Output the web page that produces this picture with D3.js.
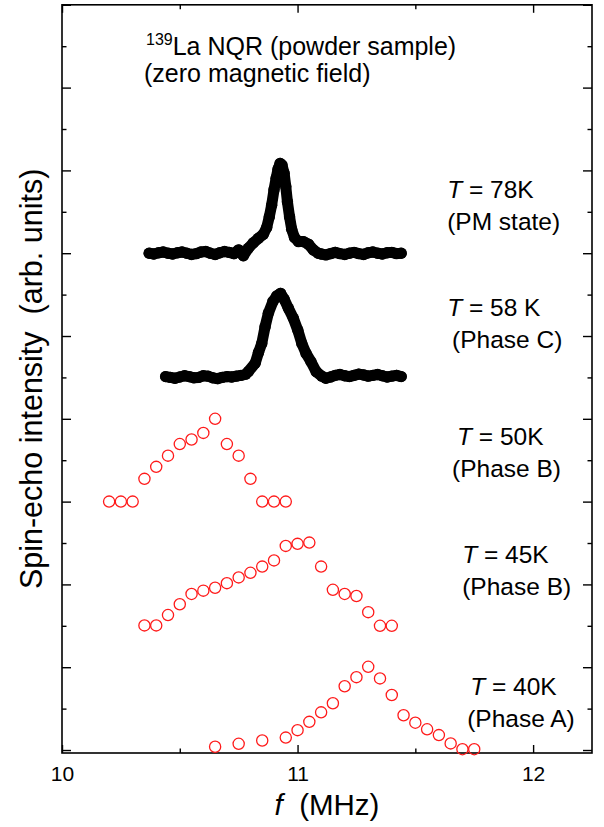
<!DOCTYPE html>
<html>
<head>
<meta charset="utf-8">
<script src="https://d3js.org/d3.v7.min.js"></script>
<style>
  body { margin: 0; background: #fff; }
  svg { font-family: "Liberation Sans", Arial, sans-serif; }
</style>
</head>
<body>
<svg id="chart" width="604" height="827"></svg>
<script>
// 139La NQR spectra (intensity in axis units, offsets included)
var freq78 = [10.37, 10.39, 10.41, 10.43, 10.45, 10.47, 10.49, 10.51, 10.53, 10.55,
  10.57, 10.59, 10.61, 10.63, 10.65, 10.67, 10.69, 10.71, 10.73, 10.75,
  10.770, 10.791, 10.812, 10.834, 10.855, 10.869, 10.880, 10.890, 10.900, 10.909,
  10.917, 10.926, 10.934, 10.943, 10.950, 10.957, 10.966, 10.975, 10.987, 11.004,
  11.025, 11.046, 11.067, 11.088, 11.10, 11.12, 11.14, 11.16, 11.18, 11.20,
  11.22, 11.24, 11.26, 11.28, 11.30, 11.32, 11.34, 11.36, 11.38, 11.40, 11.42, 11.44];
var int78 = [12.00, 11.98, 12.01, 12.03, 12.00, 11.98, 12.01, 12.03, 12.00, 11.97,
  11.99, 12.03, 12.04, 12.00, 11.97, 12.01, 12.04, 12.02, 11.99, 12.08,
  11.94, 12.12, 12.25, 12.36, 12.46, 12.62, 12.88, 13.16, 13.53, 13.81,
  14.03, 14.17, 14.13, 13.93, 13.61, 13.24, 12.88, 12.58, 12.38, 12.28,
  12.28, 12.22, 12.08, 12.00, 11.98, 11.96, 11.99, 12.02, 11.99, 11.97,
  12.00, 12.02, 11.99, 11.97, 12.01, 12.03, 12.00, 11.98, 12.01, 12.02, 11.99, 12.00];

var freq58 = [10.44, 10.46, 10.48, 10.50, 10.52, 10.54, 10.56, 10.58, 10.60, 10.62,
  10.64, 10.66, 10.68, 10.70, 10.72, 10.74, 10.76, 10.78,
  10.791, 10.820, 10.834, 10.848, 10.862, 10.876, 10.895, 10.912, 10.928, 10.943,
  10.961, 10.982, 11.001, 11.018, 11.036, 11.057, 11.079, 11.103,
  11.12, 11.14, 11.16, 11.18, 11.20, 11.22, 11.24, 11.26, 11.28, 11.30,
  11.32, 11.34, 11.36, 11.38, 11.40, 11.42, 11.44];
var int58 = [9.02, 9.00, 8.98, 9.01, 9.04, 9.02, 8.99, 9.00, 9.04, 9.03,
  8.99, 8.97, 9.00, 9.02, 9.01, 9.03, 9.05, 9.08,
  9.14, 9.34, 9.60, 9.82, 10.22, 10.55, 10.83, 10.97, 11.03, 10.89,
  10.67, 10.43, 10.14, 9.82, 9.58, 9.38, 9.14, 9.03,
  8.98, 9.01, 9.05, 9.07, 9.04, 9.02, 9.05, 9.08, 9.06, 9.03,
  9.05, 9.07, 9.04, 9.01, 9.03, 9.05, 9.02];

var freq50 = [10.20, 10.25, 10.30, 10.35, 10.40, 10.45, 10.50, 10.55,
  10.60, 10.65, 10.70, 10.75, 10.80, 10.85, 10.90, 10.95];
var int50 = [6.00, 6.00, 6.00, 6.55, 6.84, 7.11, 7.39, 7.50,
  7.66, 8.00, 7.39, 7.11, 6.55, 6.00, 6.00, 6.00];

var freq45 = [10.35, 10.40, 10.45, 10.50, 10.55, 10.60, 10.65, 10.70, 10.75, 10.80, 10.85,
  10.90, 10.95, 11.00, 11.05, 11.10, 11.15, 11.20, 11.25, 11.30, 11.35, 11.40];
var int45 = [3.01, 3.01, 3.26, 3.52, 3.77, 3.85, 3.92, 4.03, 4.17, 4.28, 4.43,
  4.58, 4.93, 4.98, 5.01, 4.43, 3.87, 3.77, 3.72, 3.33, 3.00, 3.00];

var freq40 = [10.65, 10.75, 10.85, 10.95, 11.00, 11.05, 11.10, 11.15, 11.20, 11.25,
  11.30, 11.35, 11.40, 11.45, 11.50, 11.55, 11.60, 11.65, 11.70, 11.75];
var int40 = [0.08, 0.15, 0.23, 0.30, 0.48, 0.68, 0.91, 1.13, 1.54, 1.76,
  2.01, 1.73, 1.33, 0.84, 0.66, 0.50, 0.36, 0.16, 0.02, 0.02];

// labels next to each spectrum
var tempLabels = ["78K", "58 K", "50K", "45K", "40K"];
var phaseLabels = ["(PM state)", "(Phase C)", "(Phase B)", "(Phase B)", "(Phase A)"];

var xTicks = [10, 11, 12];
var xMinor = [10.5, 11.5];
var yTicks = d3.range(0, 19, 2);
var yMinor = d3.range(1, 18, 2);

// The svg
var svg = d3.select("#chart");

var plotLeft = 62, plotRight = 592, plotTop = 4.8, plotBottom = 753;

var x = d3.scaleLinear().domain([10, 12.25]).range([plotLeft, plotRight]);
var y = d3.scaleLinear().domain([-0.072, 18]).range([plotBottom, plotTop]);

// frame
svg.append("rect")
  .attr("x", plotLeft).attr("y", plotTop)
  .attr("width", plotRight - plotLeft).attr("height", plotBottom - plotTop)
  .attr("fill", "none").attr("stroke", "#000").attr("stroke-width", 1.6);

function tickStyle(g) {
  g.select(".domain").remove();
  g.selectAll(".tick line").attr("stroke", "#000").attr("stroke-width", 1.4);
}

// x axes (ticks inward, top mirrored)
svg.append("g").attr("transform", "translate(0," + plotBottom + ")")
  .call(d3.axisBottom(x).tickValues(xTicks).tickSize(-8).tickPadding(13).tickFormat(d3.format("d")))
  .call(tickStyle)
  .call(function (g) {
    g.selectAll("text").attr("fill", "#000").style("font-size", "21px")
      .style("font-family", "Liberation Sans, Arial, sans-serif");
  });
svg.append("g").attr("transform", "translate(0," + plotBottom + ")")
  .call(d3.axisBottom(x).tickValues(xMinor).tickSize(-4.5).tickFormat(""))
  .call(tickStyle);
svg.append("g").attr("transform", "translate(0," + plotTop + ")")
  .call(d3.axisTop(x).tickValues(xTicks).tickSize(-8).tickFormat(""))
  .call(tickStyle);
svg.append("g").attr("transform", "translate(0," + plotTop + ")")
  .call(d3.axisTop(x).tickValues(xMinor).tickSize(-4.5).tickFormat(""))
  .call(tickStyle);

// y axes, no labels
svg.append("g").attr("transform", "translate(" + plotLeft + ",0)")
  .call(d3.axisLeft(y).tickValues(yTicks).tickSize(-9).tickFormat(""))
  .call(tickStyle);
svg.append("g").attr("transform", "translate(" + plotLeft + ",0)")
  .call(d3.axisLeft(y).tickValues(yMinor).tickSize(-4.5).tickFormat(""))
  .call(tickStyle);
svg.append("g").attr("transform", "translate(" + plotRight + ",0)")
  .call(d3.axisRight(y).tickValues(yTicks).tickSize(-9).tickFormat(""))
  .call(tickStyle);
svg.append("g").attr("transform", "translate(" + plotRight + ",0)")
  .call(d3.axisRight(y).tickValues(yMinor).tickSize(-4.5).tickFormat(""))
  .call(tickStyle);

// black dense spectra (78K, 58K)
function pts(fs, is) {
  return fs.map(function (f, i) { return [f, is[i]]; });
}
var line = d3.line().x(function (d) { return x(d[0]); }).y(function (d) { return y(d[1]); });

[pts(freq78, int78), pts(freq58, int58)].forEach(function (data) {
  svg.append("path")
    .datum(data)
    .attr("d", line)
    .attr("fill", "none")
    .attr("stroke", "#000")
    .attr("stroke-width", 11)
    .attr("stroke-linejoin", "round")
    .attr("stroke-linecap", "round");
  svg.append("g")
    .selectAll("circle")
    .data(data)
    .enter()
    .append("circle")
    .attr("cx", function (d) { return x(d[0]); })
    .attr("cy", function (d) { return y(d[1]); })
    .attr("r", 5.7)
    .attr("fill", "#000");
});

// red open circles (50K, 45K, 40K)
[pts(freq50, int50), pts(freq45, int45), pts(freq40, int40)].forEach(function (data) {
  svg.append("g")
    .selectAll("circle")
    .data(data)
    .enter()
    .append("circle")
    .attr("cx", function (d) { return x(d[0]); })
    .attr("cy", function (d) { return y(d[1]); })
    .attr("r", 5.6)
    .attr("fill", "none")
    .attr("stroke", "#ff1a1a")
    .attr("stroke-width", 1.3);
});

// annotations, anchored in data coordinates
var annoX = [11.635, 11.635, 11.677, 11.699, 11.733];
var annoX2 = [11.635, 11.656, 11.656, 11.699, 11.72];
var annoY = [13.33, 10.48, 7.37, 4.52, 1.33];
var annoY2 = [12.56, 9.71, 6.59, 3.74, 0.56];

tempLabels.forEach(function (t, i) {
  var txt = svg.append("text")
    .attr("x", x(annoX[i])).attr("y", y(annoY[i]))
    .style("font-size", "24.5px").style("white-space", "pre");
  txt.append("tspan").style("font-style", "italic").text("T");
  txt.append("tspan").text(" = " + t);
  svg.append("text")
    .attr("x", x(annoX2[i])).attr("y", y(annoY2[i]))
    .style("font-size", "24.5px")
    .text(phaseLabels[i]);
});

// title
var title = svg.append("text").attr("x", 146).attr("y", 55).style("font-size", "25px");
title.append("tspan").style("font-size", "16px").attr("dy", -10).text("139");
title.append("tspan").attr("dy", 10).text("La NQR (powder sample)");
svg.append("text").attr("x", 144).attr("y", 82).style("font-size", "25px")
  .text("(zero magnetic field)");

// axis titles
var xl = svg.append("text")
  .attr("x", (plotLeft + plotRight) / 2).attr("y", 815)
  .attr("text-anchor", "middle")
  .style("font-size", "29.5px").style("white-space", "pre");
xl.append("tspan").style("font-style", "italic").text("f");
xl.append("tspan").text("  (MHz)");

svg.append("text")
  .attr("transform", "translate(42," + ((plotTop + plotBottom) / 2) + ") rotate(-90)")
  .attr("text-anchor", "middle")
  .style("font-size", "30.5px").style("white-space", "pre")
  .text("Spin-echo intensity  (arb. units)");
</script>
</body>
</html>
